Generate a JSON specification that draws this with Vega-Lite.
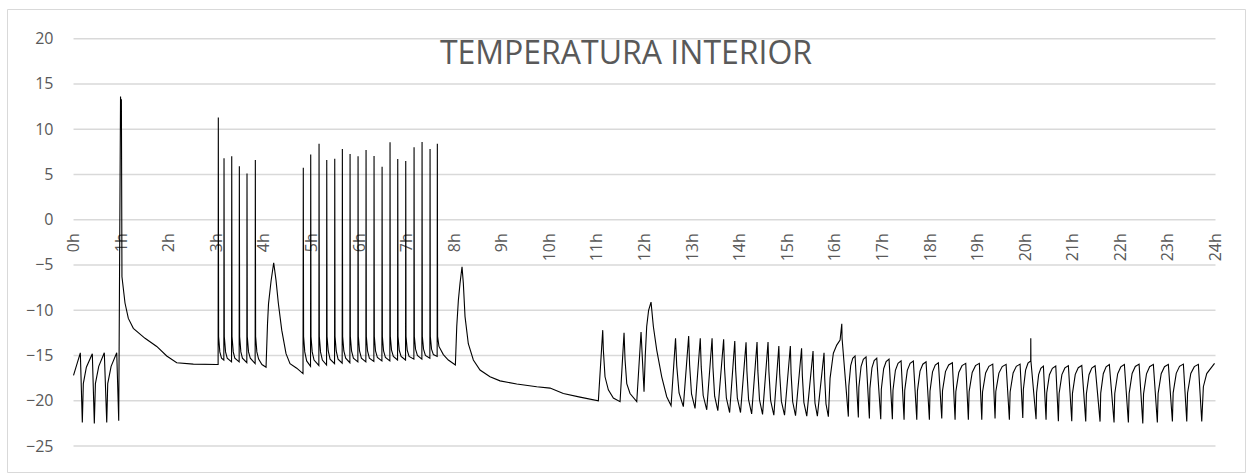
{
"$schema": "https://vega.github.io/schema/vega-lite/v6.json",
"width": 1238, "height": 463,
"autosize": "none",
"padding": {"left": 7, "top": 9, "right": 2, "bottom": 1},
"background": "white",
"config": {"view": {"stroke": "#d9d9d9", "strokeWidth": 1}, "font": "Open Sans"},
"title": {"text": "TEMPERATURA INTERIOR", "font": "Open Sans", "fontSize": 32, "fontWeight": "normal", "color": "#595959", "anchor": "middle", "baseline": "alphabetic", "offset": -86.8},
"datasets": {
"grid": [{"h":0,"h2":24,"t":-25},{"h":0,"h2":24,"t":-20},{"h":0,"h2":24,"t":-15},{"h":0,"h2":24,"t":-10},{"h":0,"h2":24,"t":-5},{"h":0,"h2":24,"t":0},{"h":0,"h2":24,"t":5},{"h":0,"h2":24,"t":10},{"h":0,"h2":24,"t":15},{"h":0,"h2":24,"t":20}],
"temp": [
{"h":0.000,"t":-17.2},{"h":0.143,"t":-14.7},{"h":0.185,"t":-22.4},{"h":0.206,"t":-18.1},{"h":0.27,"t":-16.3},{"h":0.395,"t":-14.8},{"h":0.437,"t":-22.5},{"h":0.46,"t":-18.1},{"h":0.53,"t":-16.2},{"h":0.647,"t":-14.7},{"h":0.698,"t":-22.4},{"h":0.719,"t":-18.1},{"h":0.79,"t":-16.2},{"h":0.908,"t":-14.7},{"h":0.950,"t":-22.2},
{"h":0.988,"t":13.6},{"h":1.000,"t":12.0},{"h":1.006,"t":13.3},{"h":1.018,"t":-6.3},{"h":1.082,"t":-9.2},{"h":1.152,"t":-10.9},{"h":1.257,"t":-12.0},{"h":1.503,"t":-13.1},{"h":1.749,"t":-14.0},{"h":1.959,"t":-15.05},{"h":2.169,"t":-15.8},{"h":2.518,"t":-15.95},{"h":3.010,"t":-16.0},{"h":3.039,"t":-16.0},
{"h":3.043,"t":11.3},{"h":3.049,"t":-12.9},{"h":3.075,"t":-14.6},{"h":3.11,"t":-15.3},{"h":3.159,"t":-15.5},
{"h":3.163,"t":6.8},{"h":3.169,"t":-12.9},{"h":3.195,"t":-14.6},{"h":3.23,"t":-15.3},{"h":3.321,"t":-15.7},
{"h":3.325,"t":7.0},{"h":3.331,"t":-12.9},{"h":3.357,"t":-14.6},{"h":3.39,"t":-15.3},{"h":3.481,"t":-15.7},
{"h":3.485,"t":5.9},{"h":3.491,"t":-12.9},{"h":3.517,"t":-14.6},{"h":3.55,"t":-15.3},{"h":3.642,"t":-15.8},
{"h":3.646,"t":5.1},{"h":3.652,"t":-12.9},{"h":3.678,"t":-14.6},{"h":3.715,"t":-15.3},{"h":3.817,"t":-15.9},
{"h":3.821,"t":6.6},{"h":3.827,"t":-12.9},{"h":3.853,"t":-14.6},{"h":3.89,"t":-15.4},{"h":3.96,"t":-16.0},{"h":4.046,"t":-16.3},
{"h":4.077,"t":-11.5},{"h":4.098,"t":-9.3},{"h":4.151,"t":-6.8},{"h":4.207,"t":-4.75},{"h":4.256,"t":-6.7},{"h":4.304,"t":-9.2},{"h":4.376,"t":-12.2},{"h":4.466,"t":-14.8},{"h":4.550,"t":-15.9},{"h":4.691,"t":-16.4},{"h":4.823,"t":-17.0},
{"h":4.829,"t":5.75},{"h":4.835,"t":-12.9},{"h":4.86,"t":-14.6},{"h":4.9,"t":-15.6},{"h":4.981,"t":-16.2},
{"h":4.985,"t":7.2},{"h":4.991,"t":-12.9},{"h":5.016,"t":-14.6},{"h":5.055,"t":-15.5},{"h":5.156,"t":-16.1},
{"h":5.160,"t":8.4},{"h":5.166,"t":-12.9},{"h":5.191,"t":-14.6},{"h":5.23,"t":-15.5},{"h":5.318,"t":-16.05},
{"h":5.322,"t":6.6},{"h":5.328,"t":-12.9},{"h":5.353,"t":-14.5},{"h":5.392,"t":-15.4},{"h":5.486,"t":-15.9},
{"h":5.490,"t":6.75},{"h":5.496,"t":-12.9},{"h":5.521,"t":-14.5},{"h":5.56,"t":-15.4},{"h":5.646,"t":-15.85},
{"h":5.650,"t":7.8},{"h":5.656,"t":-12.9},{"h":5.681,"t":-14.5},{"h":5.72,"t":-15.3},{"h":5.808,"t":-15.8},
{"h":5.812,"t":7.25},{"h":5.818,"t":-12.9},{"h":5.843,"t":-14.5},{"h":5.882,"t":-15.3},{"h":5.976,"t":-15.7},
{"h":5.980,"t":7.0},{"h":5.986,"t":-12.9},{"h":6.011,"t":-14.5},{"h":6.05,"t":-15.3},{"h":6.144,"t":-15.7},
{"h":6.148,"t":7.7},{"h":6.154,"t":-12.9},{"h":6.179,"t":-14.5},{"h":6.218,"t":-15.3},{"h":6.312,"t":-15.65},
{"h":6.316,"t":7.05},{"h":6.322,"t":-12.9},{"h":6.347,"t":-14.5},{"h":6.386,"t":-15.2},{"h":6.481,"t":-15.6},
{"h":6.485,"t":5.85},{"h":6.491,"t":-12.9},{"h":6.516,"t":-14.5},{"h":6.555,"t":-15.2},{"h":6.648,"t":-15.6},
{"h":6.652,"t":8.55},{"h":6.658,"t":-12.9},{"h":6.683,"t":-14.4},{"h":6.722,"t":-15.1},{"h":6.81,"t":-15.5},
{"h":6.814,"t":6.7},{"h":6.82,"t":-12.9},{"h":6.845,"t":-14.4},{"h":6.884,"t":-15.1},{"h":6.978,"t":-15.5},
{"h":6.982,"t":6.5},{"h":6.988,"t":-12.9},{"h":7.013,"t":-14.4},{"h":7.052,"t":-15.1},{"h":7.153,"t":-15.4},
{"h":7.157,"t":8.0},{"h":7.163,"t":-12.9},{"h":7.188,"t":-14.3},{"h":7.227,"t":-15.0},{"h":7.321,"t":-15.4},
{"h":7.325,"t":8.6},{"h":7.331,"t":-12.9},{"h":7.356,"t":-14.3},{"h":7.395,"t":-15.0},{"h":7.489,"t":-15.3},
{"h":7.493,"t":7.8},{"h":7.499,"t":-12.9},{"h":7.524,"t":-14.3},{"h":7.563,"t":-14.9},{"h":7.642,"t":-15.1},
{"h":7.646,"t":8.4},{"h":7.652,"t":-12.9},{"h":7.68,"t":-14.0},{"h":7.772,"t":-14.9},{"h":7.877,"t":-15.5},{"h":8.025,"t":-16.05},
{"h":8.054,"t":-11.8},{"h":8.088,"t":-8.9},{"h":8.123,"t":-7.0},{"h":8.165,"t":-5.2},{"h":8.192,"t":-7.0},{"h":8.228,"t":-10.7},{"h":8.297,"t":-13.7},{"h":8.403,"t":-15.5},{"h":8.543,"t":-16.6},{"h":8.753,"t":-17.35},{"h":8.964,"t":-17.8},{"h":9.315,"t":-18.15},{"h":9.735,"t":-18.45},{"h":10.015,"t":-18.6},{"h":10.294,"t":-19.2},{"h":10.645,"t":-19.6},{"h":11.03,"t":-20.0},
{"h":11.122,"t":-12.2},{"h":11.135,"t":-14.4},{"h":11.170,"t":-17.35},{"h":11.240,"t":-18.8},{"h":11.345,"t":-19.7},{"h":11.486,"t":-20.1},{"h":11.570,"t":-12.5},{"h":11.591,"t":-15.5},{"h":11.627,"t":-18.1},{"h":11.696,"t":-19.2},{"h":11.837,"t":-20.1},{"h":11.927,"t":-12.4},{"h":11.990,"t":-19.0},{"h":12.016,"t":-15.0},{"h":12.046,"t":-11.8},{"h":12.086,"t":-10.0},{"h":12.137,"t":-9.1},{"h":12.186,"t":-11.8},{"h":12.257,"t":-14.4},{"h":12.362,"t":-17.35},{"h":12.467,"t":-19.55},{"h":12.558,"t":-20.55},
{"h":12.652,"t":-13.1},{"h":12.677,"t":-16.12},{"h":12.726,"t":-19.14},{"h":12.816,"t":-20.65},
{"h":12.928,"t":-12.85},{"h":12.948,"t":-16.05},{"h":12.988,"t":-19.25},{"h":13.062,"t":-20.85},
{"h":13.172,"t":-13.1},{"h":13.192,"t":-16.26},{"h":13.233,"t":-19.42},{"h":13.308,"t":-21.0},
{"h":13.420,"t":-13.1},{"h":13.438,"t":-16.3},{"h":13.474,"t":-19.5},{"h":13.541,"t":-21.1},
{"h":13.663,"t":-13.2},{"h":13.682,"t":-16.44},{"h":13.72,"t":-19.68},{"h":13.789,"t":-21.3},
{"h":13.897,"t":-13.4},{"h":13.915,"t":-16.56},{"h":13.951,"t":-19.72},{"h":14.018,"t":-21.3},
{"h":14.134,"t":-13.55},{"h":14.152,"t":-16.71},{"h":14.187,"t":-19.87},{"h":14.252,"t":-21.45},
{"h":14.365,"t":-13.5},{"h":14.382,"t":-16.7},{"h":14.417,"t":-19.9},{"h":14.481,"t":-21.5},
{"h":14.596,"t":-13.5},{"h":14.614,"t":-16.74},{"h":14.651,"t":-19.98},{"h":14.718,"t":-21.6},
{"h":14.823,"t":-13.95},{"h":14.841,"t":-17.01},{"h":14.877,"t":-20.07},{"h":14.943,"t":-21.6},
{"h":15.065,"t":-13.95},{"h":15.081,"t":-17.03},{"h":15.114,"t":-20.11},{"h":15.174,"t":-21.65},
{"h":15.301,"t":-14.2},{"h":15.317,"t":-17.2},{"h":15.35,"t":-20.2},{"h":15.410,"t":-21.7},
{"h":15.542,"t":-14.5},{"h":15.556,"t":-17.38},{"h":15.583,"t":-20.26},{"h":15.633,"t":-21.7},
{"h":15.773,"t":-14.7},{"h":15.787,"t":-17.52},{"h":15.814,"t":-20.34},{"h":15.864,"t":-21.75},
{"h":15.900,"t":-17.5},{"h":15.969,"t":-14.75},{"h":16.040,"t":-13.85},{"h":16.110,"t":-13.3},{"h":16.146,"t":-11.5},{"h":16.152,"t":-13.1},{"h":16.284,"t":-21.75},
{"h":16.294,"t":-18.4},{"h":16.333,"t":-16.12},{"h":16.376,"t":-15.32},{"h":16.425,"t":-15.05},{"h":16.494,"t":-21.85},
{"h":16.505,"t":-18.5},{"h":16.551,"t":-16.22},{"h":16.599,"t":-15.42},{"h":16.656,"t":-15.15},{"h":16.726,"t":-21.95},
{"h":16.737,"t":-18.63},{"h":16.780,"t":-16.36},{"h":16.827,"t":-15.57},{"h":16.881,"t":-15.3},{"h":16.965,"t":-22.05},
{"h":16.977,"t":-18.73},{"h":17.026,"t":-16.46},{"h":17.078,"t":-15.67},{"h":17.139,"t":-15.4},{"h":17.209,"t":-22.05},
{"h":17.222,"t":-18.83},{"h":17.273,"t":-16.63},{"h":17.328,"t":-15.86},{"h":17.392,"t":-15.6},{"h":17.455,"t":-22.1},
{"h":17.469,"t":-18.85},{"h":17.523,"t":-16.64},{"h":17.582,"t":-15.86},{"h":17.650,"t":-15.6},{"h":17.722,"t":-22.1},
{"h":17.736,"t":-18.9},{"h":17.790,"t":-16.72},{"h":17.849,"t":-15.96},{"h":17.917,"t":-15.7},{"h":17.987,"t":-22.1},
{"h":18.0,"t":-18.95},{"h":18.053,"t":-16.81},{"h":18.11,"t":-16.05},{"h":18.176,"t":-15.8},{"h":18.247,"t":-21.95},
{"h":18.263,"t":-18.88},{"h":18.325,"t":-16.78},{"h":18.392,"t":-16.05},{"h":18.470,"t":-15.8},{"h":18.527,"t":-22.1},
{"h":18.543,"t":-18.99},{"h":18.605,"t":-16.87},{"h":18.673,"t":-16.12},{"h":18.751,"t":-15.87},{"h":18.806,"t":-22.1},
{"h":18.822,"t":-18.99},{"h":18.887,"t":-16.87},{"h":18.956,"t":-16.12},{"h":19.037,"t":-15.87},{"h":19.088,"t":-22.1},
{"h":19.104,"t":-19.03},{"h":19.169,"t":-16.93},{"h":19.238,"t":-16.2},{"h":19.319,"t":-15.95},{"h":19.367,"t":-21.95},
{"h":19.383,"t":-18.97},{"h":19.448,"t":-16.94},{"h":19.518,"t":-16.22},{"h":19.599,"t":-15.98},{"h":19.668,"t":-22.1},
{"h":19.684,"t":-19.03},{"h":19.747,"t":-16.93},{"h":19.814,"t":-16.2},{"h":19.893,"t":-15.95},{"h":19.950,"t":-21.9},
{"h":19.962,"t":-18.75},{"h":20.009,"t":-16.61},{"h":20.059,"t":-15.85},{"h":20.116,"t":-15.6},{"h":20.118,"t":-13.1},{"h":20.121,"t":-15.6},{"h":20.229,"t":-22.05},
{"h":20.240,"t":-19.11},{"h":20.283,"t":-17.11},{"h":20.329,"t":-16.41},{"h":20.383,"t":-16.17},{"h":20.439,"t":-22.1},
{"h":20.453,"t":-19.14},{"h":20.510,"t":-17.12},{"h":20.572,"t":-16.41},{"h":20.643,"t":-16.17},{"h":20.698,"t":-22.25},
{"h":20.713,"t":-19.19},{"h":20.772,"t":-17.11},{"h":20.835,"t":-16.37},{"h":20.908,"t":-16.13},{"h":20.979,"t":-22.25},
{"h":20.994,"t":-19.18},{"h":21.053,"t":-17.08},{"h":21.116,"t":-16.35},{"h":21.190,"t":-16.1},{"h":21.273,"t":-22.3},
{"h":21.287,"t":-19.22},{"h":21.342,"t":-17.12},{"h":21.400,"t":-16.38},{"h":21.469,"t":-16.13},{"h":21.574,"t":-22.3},
{"h":21.588,"t":-19.15},{"h":21.642,"t":-17.01},{"h":21.701,"t":-16.25},{"h":21.769,"t":-16.0},{"h":21.868,"t":-22.4},
{"h":21.883,"t":-19.2},{"h":21.944,"t":-17.02},{"h":22.009,"t":-16.26},{"h":22.085,"t":-16.0},{"h":22.169,"t":-22.4},
{"h":22.185,"t":-19.18},{"h":22.248,"t":-16.98},{"h":22.315,"t":-16.21},{"h":22.394,"t":-15.95},{"h":22.472,"t":-22.5},
{"h":22.488,"t":-19.24},{"h":22.550,"t":-17.02},{"h":22.616,"t":-16.24},{"h":22.694,"t":-15.98},{"h":22.778,"t":-22.4},
{"h":22.794,"t":-19.19},{"h":22.859,"t":-17.01},{"h":22.928,"t":-16.24},{"h":23.009,"t":-15.98},{"h":23.094,"t":-22.3},
{"h":23.110,"t":-19.13},{"h":23.175,"t":-16.97},{"h":23.244,"t":-16.2},{"h":23.325,"t":-15.95},{"h":23.396,"t":-22.3},
{"h":23.413,"t":-19.14},{"h":23.481,"t":-16.99},{"h":23.555,"t":-16.23},{"h":23.640,"t":-15.98},{"h":23.711,"t":-22.3},
{"h":23.745,"t":-18.45},{"h":23.816,"t":-17.0},{"h":23.98,"t":-15.87}
]
},
"encoding": {
"x": {"field": "h", "type": "quantitative", "scale": {"domain": [-1.398, 24.62], "nice": false, "zero": false},
 "axis": {"title": null, "orient": "bottom", "offset": -252.3, "values": [0,1,2,3,4,5,6,7,8,9,10,11,12,13,14,15,16,17,18,19,20,21,22,23,24], "labelExpr": "datum.value + 'h'", "labelAngle": -90, "labelAlign": "right", "labelBaseline": "middle", "labelPadding": 13, "ticks": false, "tickSize": 0, "domain": false, "grid": false, "labelFont": "Open Sans", "labelFontSize": 16, "labelColor": "#595959", "labelOverlap": false, "labelFlush": false, "labelBound": false}},
"y": {"field": "t", "type": "quantitative", "scale": {"domain": [-27.87, 23.28], "nice": false, "zero": false},
 "axis": {"title": null, "orient": "left", "values": [-25,-20,-15,-10,-5,0,5,10,15,20], "labelPadding": -46, "ticks": false, "tickSize": 0, "domain": false, "grid": false, "labelFont": "Open Sans", "labelFontSize": 16, "labelColor": "#595959", "labelAlign": "right", "labelBaseline": "middle", "labelOverlap": false, "labelFlush": false, "labelBound": false}}
},
"layer": [
{"data": {"name": "grid"}, "mark": {"type": "rule", "color": "#d9d9d9", "strokeWidth": 1.5}, "encoding": {"x2": {"field": "h2"}}},
{"data": {"name": "temp"}, "mark": {"type": "line", "color": "#000000", "strokeWidth": 1.1, "interpolate": "linear"}}
]
}
